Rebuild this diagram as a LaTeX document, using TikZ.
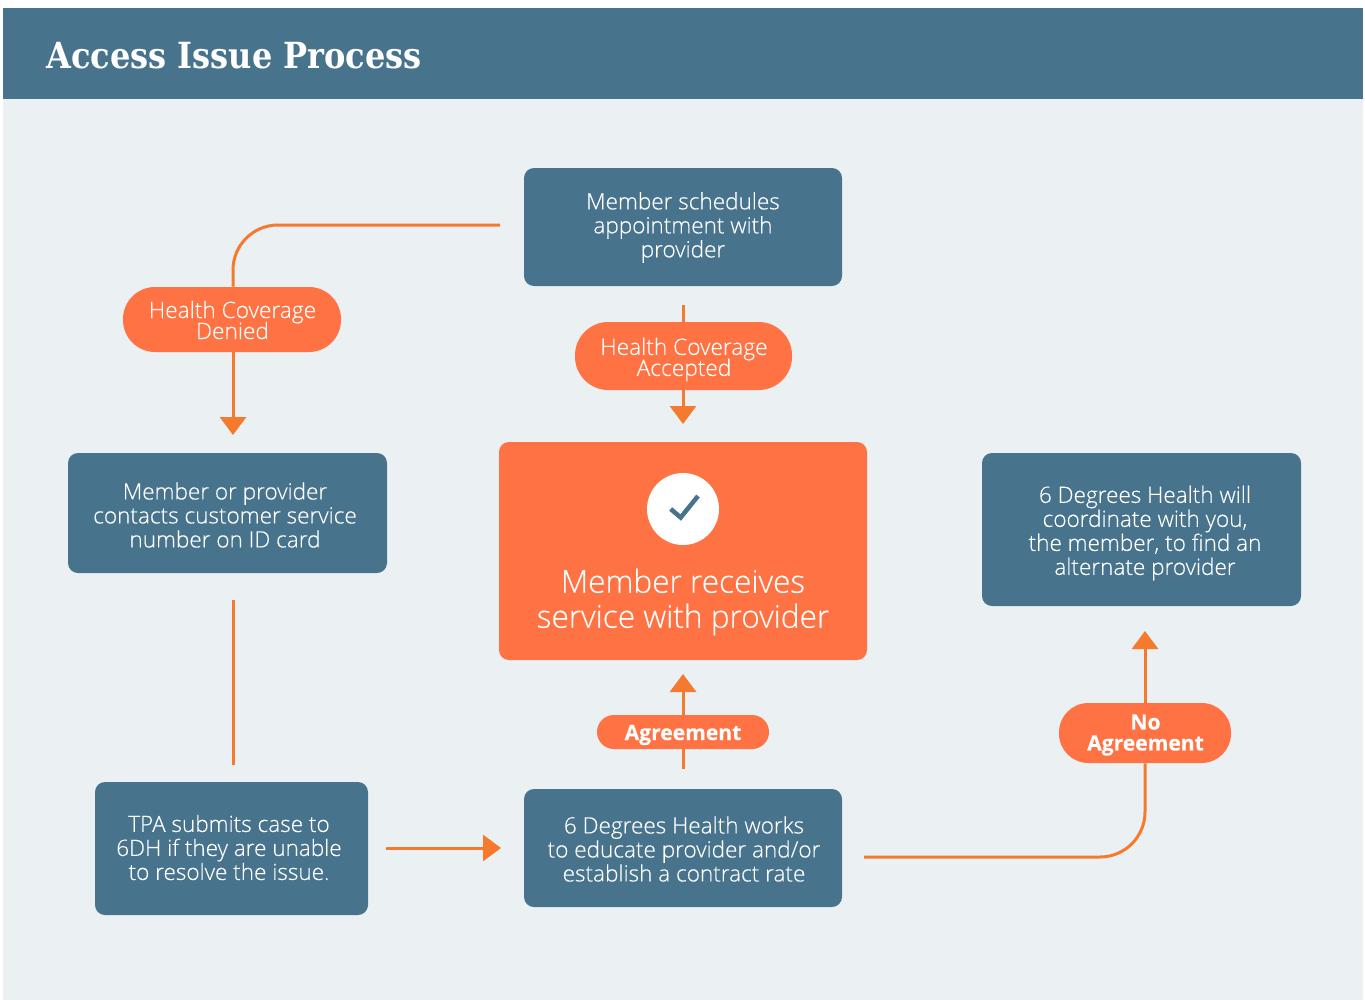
\documentclass[tikz,border=0pt]{standalone}
\usepackage{fontspec}
\setmainfont{Open Sans Light}[BoldFont={Open Sans Bold},FakeBold=0.3]
\newfontfamily\titlefont{DejaVu Serif}[FakeStretch=0.89]
\usetikzlibrary{arrows.meta}
\newcommand{\tightlines}{\lineskiplimit=-10pt\relax}
\definecolor{slate}{HTML}{47738D}
\definecolor{bgpale}{HTML}{EBF0F3}
\definecolor{coral}{HTML}{FF7243}
\definecolor{linecol}{HTML}{F57A2D}
\tikzset{
  x=0.75pt,y=-0.75pt,
  bluebox/.style={fill=slate,rounded corners=7.5pt,inner sep=0pt},
  bluetext/.style={text=white,inner sep=0pt,align=center,font=\fontsize{16.9}{18}\selectfont\tightlines},
  centerbox/.style={fill=coral,rounded corners=7.5pt,inner sep=0pt},
  pillbox/.style={fill=coral,inner sep=0pt},
  pilltext/.style={text=white,inner sep=0pt,align=center,font=\fontsize{17}{15.75}\selectfont\tightlines},
  boldtext/.style={pilltext,font=\bfseries\fontsize{15.8}{15.75}\selectfont\tightlines},
  conn/.style={draw=linecol,line width=2.25pt},
  arr/.style={conn,-{Triangle[width=19.5pt,length=13.5pt]}},
}
\begin{document}
\begin{tikzpicture}
\useasboundingbox (0,0) rectangle (1365,1000);
\fill[white] (0,0) rectangle (1365,1000);
\fill[bgpale] (3,99) rectangle (1363,1000);
\fill[slate] (3,8) rectangle (1363,99);
\node[anchor=west,text=white,inner sep=0pt,font=\titlefont\bfseries\fontsize{27}{30}\selectfont] (title) at (46,55.5) {Access Issue Process};

\node[bluebox,minimum width=318*0.75pt,minimum height=118*0.75pt] (sched) at (683,227) {};
\node[bluetext] (schedtext) at (683,227.5) {Member schedules\\appointment with\\provider};
\node[bluebox,minimum width=319*0.75pt,minimum height=120*0.75pt] (contact) at (227.5,513) {};
\node[bluetext] (contacttext) at (225,515) {Member or provider\\contacts customer service\\number on ID card};
\node[bluebox,minimum width=273*0.75pt,minimum height=133*0.75pt] (tpa) at (231.5,848.5) {};
\node[bluetext] (tpatext) at (229,847.5) {TPA submits case to\\6DH if they are unable\\to resolve the issue.};
\node[bluebox,minimum width=318*0.75pt,minimum height=118*0.75pt] (works) at (683,848) {};
\node[bluetext] (workstext) at (684,849) {6 Degrees Health works\\to educate provider and/or\\establish a contract rate};
\node[bluebox,minimum width=319*0.75pt,minimum height=153*0.75pt] (coord) at (1141.5,529.5) {};
\node[bluetext] (coordtext) at (1145,533) {6 Degrees Health will\\coordinate with you,\\the member, to find an\\alternate provider};

\node[centerbox,minimum width=368*0.75pt,minimum height=218*0.75pt] (service) at (683,551) {};
\node[circle,fill=white,minimum size=72*0.75pt,inner sep=0pt] (check) at (683,509) {};
\draw[slate,line width=3.4pt] (670.7,509) -- (680.7,517.5) -- (698,496);
\node[text=white,inner sep=0pt,align=center,font=\fontsize{23.7}{26.25}\selectfont\tightlines] (servicetext) at (683,602) {Member receives\\service with provider};

\node[pillbox,minimum width=218*0.75pt,minimum height=65*0.75pt,rounded corners=24pt] (denied) at (232,319.5) {};
\node[pilltext] (deniedtext) at (232.5,320) {Health Coverage\\Denied};
\node[pillbox,minimum width=217*0.75pt,minimum height=68*0.75pt,rounded corners=25pt] (accepted) at (683.5,356) {};
\node[pilltext] (acceptedtext) at (684,359.5) {Health Coverage\\Accepted};
\node[pillbox,minimum width=172*0.75pt,minimum height=34*0.75pt,rounded corners=12.7pt] (agree) at (683,732) {};
\node[boldtext] (agreetext) at (683,735) {Agreement};
\node[pillbox,minimum width=172*0.75pt,minimum height=60*0.75pt,rounded corners=22pt] (noagree) at (1145,733) {};
\node[boldtext] (noagreetext) at (1145.5,735) {No\\Agreement};

\coordinate (a1) at (500,225);
\coordinate (a2) at (233,435);
\coordinate (b1) at (683,305);
\coordinate (b2) at (683,424);
\coordinate (c1) at (233,600);
\coordinate (c2) at (233,765);
\coordinate (d1) at (386,848);
\coordinate (d2) at (501,848);
\coordinate (e1) at (683,769);
\coordinate (e2) at (683,674);
\coordinate (f1) at (864,857);
\coordinate (f2) at (1145,631);

\draw[conn] (a1) -- (278,225) arc[start angle=90,end angle=180,radius=45*0.75pt] -- (denied.north -| a2);
\draw[arr] (denied.south -| a2) -- (a2);
\draw[conn] (b1) -- (accepted.north -| b1);
\draw[arr] (accepted.south -| b2) -- (b2);
\draw[conn] (c1) -- (c2);
\draw[arr] (d1) -- (d2);
\draw[conn] (e1) -- (agree.south -| e1);
\draw[arr] (agree.north -| e2) -- (e2);
\draw[conn] (f1) -- (1100,857) arc[start angle=-90,end angle=0,radius=45*0.75pt] -- (noagree.south -| f2);
\draw[arr] (noagree.north -| f2) -- (f2);
\end{tikzpicture}
\end{document}
